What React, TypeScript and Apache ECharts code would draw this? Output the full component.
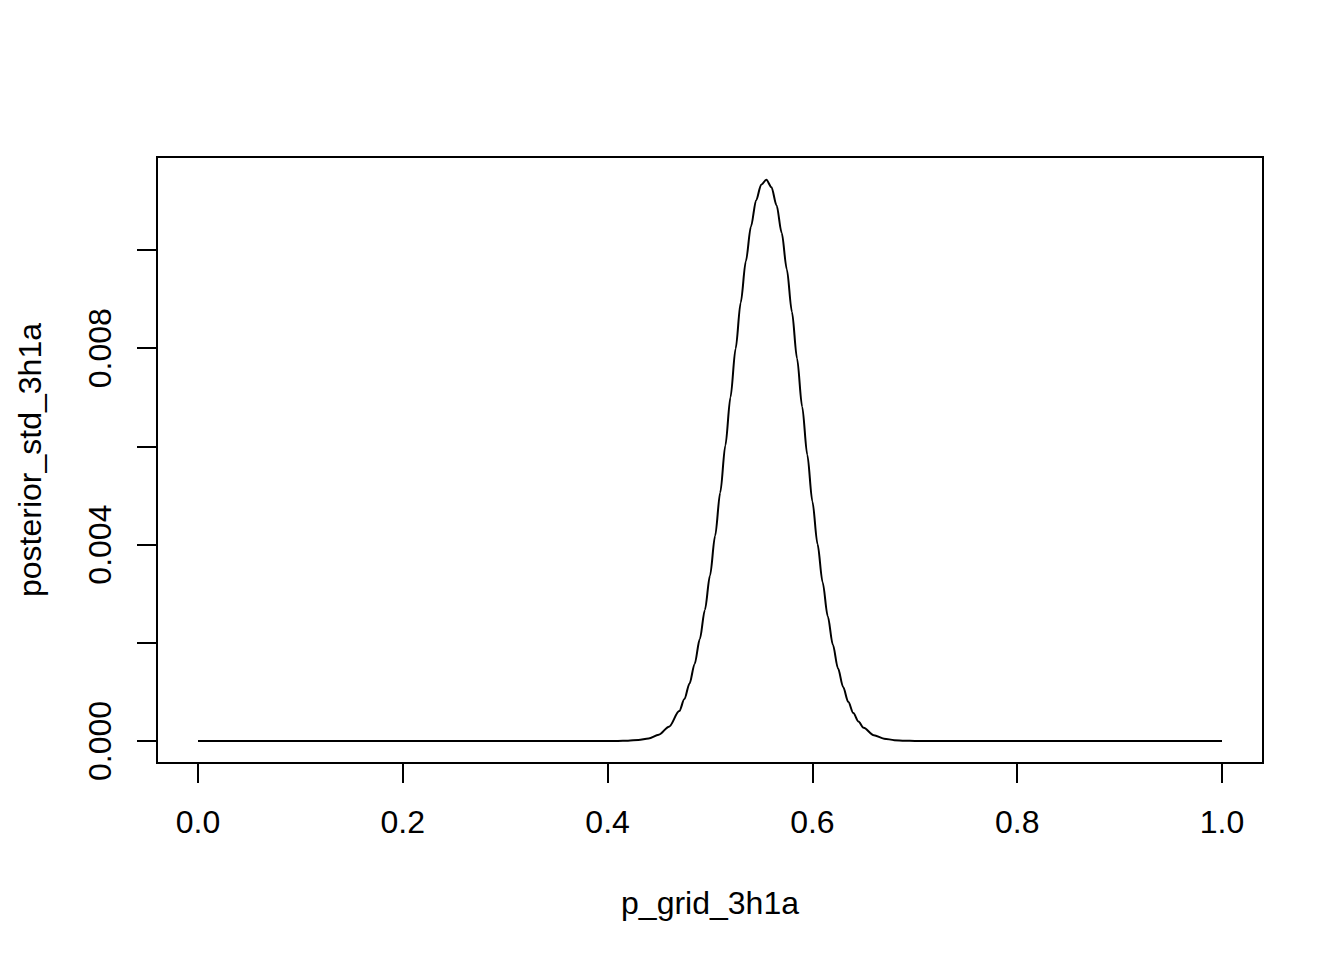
import React, { useEffect, useRef } from "react";
import * as echarts from "echarts";

// grid of p values (flat at zero outside 0.40–0.70)
const P_GRID: number[] = [
  0.0, 0.1, 0.2, 0.3, 0.38, 0.4, 0.41, 0.42, 0.43, 0.44, 0.45, 0.46, 0.47, 0.475,
  0.48, 0.485, 0.49, 0.495, 0.5, 0.505, 0.51, 0.515, 0.52, 0.525, 0.53, 0.535,
  0.54, 0.545, 0.55, 0.555, 0.56, 0.565, 0.57, 0.575, 0.58, 0.585, 0.59, 0.595,
  0.6, 0.605, 0.61, 0.615, 0.62, 0.625, 0.63, 0.635, 0.64, 0.645, 0.65, 0.66,
  0.67, 0.68, 0.69, 0.7, 0.72, 0.8, 0.9, 1.0,
];

const POSTERIOR_STD: number[] = [
  0, 0, 0, 0, 0, 0.0000006, 0.0000022, 0.0000068, 0.0000198, 0.0000526, 0.000129,
  0.000292, 0.000609, 0.000853, 0.00117, 0.00157, 0.00207, 0.00267, 0.00337,
  0.00418, 0.00506, 0.00602, 0.007, 0.00799, 0.00893, 0.00977, 0.01048, 0.01101,
  0.01133, 0.01143, 0.01128, 0.01091, 0.01035, 0.00961, 0.00874, 0.00779, 0.00681,
  0.00583, 0.00488, 0.00401, 0.00323, 0.00254, 0.00196, 0.00148, 0.0011, 0.000798,
  0.000568, 0.000396, 0.00027, 0.000118, 0.0000478, 0.0000178, 0.0000061,
  0.0000019, 0, 0, 0, 0,
];

const X_TICK_LABELS: string[] = ["0.0", "0.2", "0.4", "0.6", "0.8", "1.0"];
const Y_TICK_LABELS: string[] = ["0.000", "", "0.004", "", "0.008", ""];

const X_TITLE = "p_grid_3h1a";
const Y_TITLE = "posterior_std_3h1a";

const FONT = "'Liberation Sans', Arial, Helvetica, sans-serif";

export default function App() {
  const ref = useRef<HTMLDivElement>(null);

  useEffect(() => {
    if (!ref.current) return;
    const chart = echarts.init(ref.current, undefined, { renderer: "svg" });
    const data = P_GRID.map((p, i) => [p, POSTERIOR_STD[i]]);
    chart.setOption({
      animation: false,
      backgroundColor: "#ffffff",
      grid: { left: 198, right: 122, top: 250, bottom: 219, containLabel: false },
      xAxis: {
        type: "value",
        min: 0,
        max: 1,
        interval: 0.2,
        offset: 22,
        axisLine: { show: true, onZero: false, lineStyle: { color: "#000", width: 2 } },
        axisTick: { show: true, length: 20, lineStyle: { color: "#000", width: 2 } },
        axisLabel: {
          margin: 43,
          fontSize: 32,
          fontFamily: FONT,
          color: "#000",
          formatter: (v: number) => X_TICK_LABELS[Math.round(v / 0.2)] ?? "",
        },
        splitLine: { show: false },
      },
      yAxis: {
        type: "value",
        min: 0,
        max: 0.01,
        interval: 0.002,
        offset: 41,
        axisLine: { show: true, onZero: false, lineStyle: { color: "#000", width: 2 } },
        axisTick: { show: true, length: 20, lineStyle: { color: "#000", width: 2 } },
        axisLabel: {
          rotate: 90,
          margin: 41,
          fontSize: 32,
          fontFamily: FONT,
          color: "#000",
          formatter: (v: number) => Y_TICK_LABELS[Math.round(v / 0.002)] ?? "",
        },
        splitLine: { show: false },
      },
      graphic: [
        {
          type: "rect",
          shape: { x: 157, y: 157, width: 1106, height: 606 },
          style: { fill: "none", stroke: "#000", lineWidth: 2 },
          silent: true,
        },
        {
          type: "text",
          x: 710,
          y: 903,
          style: {
            text: X_TITLE,
            font: `32px ${FONT}`,
            fill: "#000",
            align: "center",
            verticalAlign: "middle",
          },
        },
        {
          type: "text",
          x: 30,
          y: 460,
          rotation: Math.PI / 2,
          style: {
            text: Y_TITLE,
            font: `32px ${FONT}`,
            fill: "#000",
            align: "center",
            verticalAlign: "middle",
          },
        },
      ],
      series: [
        {
          type: "line",
          data,
          clip: false,
          showSymbol: false,
          symbol: "none",
          smooth: 0.3,
          smoothMonotone: "x",
          lineStyle: { color: "#000", width: 2 },
        },
      ],
    });
    return () => chart.dispose();
  }, []);

  return (
    <div
      ref={ref}
      style={{ position: "absolute", left: 0, top: 0, width: 1344, height: 960, background: "#fff" }}
    />
  );
}
